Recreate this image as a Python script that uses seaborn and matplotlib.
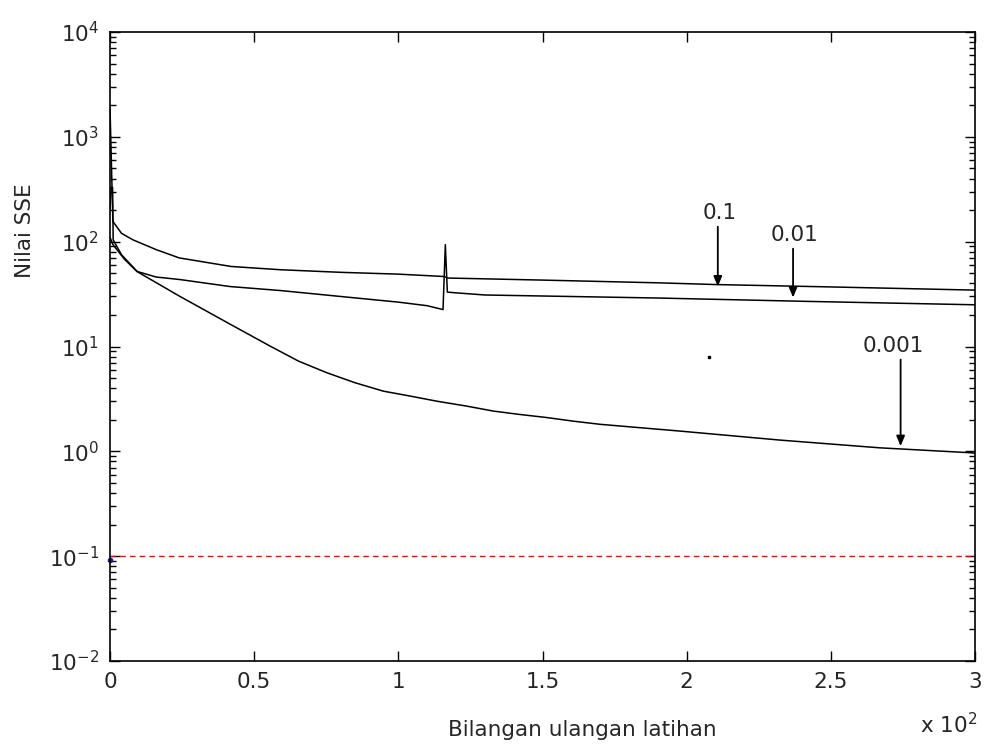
import numpy as np
import pandas as pd
import matplotlib
matplotlib.use("Agg")
import matplotlib.pyplot as plt
import seaborn as sns

# epochs / SSE values (x axis is in epochs, shown as x 10^2)
ep_a = [0, 1, 4, 8, 16, 24, 42, 59, 80, 100, 116, 117, 150, 190, 210, 250, 300]
sse_a = [1900, 156, 120, 104, 84, 70, 58, 54, 51, 49, 46.5, 45, 43, 40.5, 39, 37, 34.5]

ep_b = [0, 0.4, 0.9, 1.1, 4, 9.4, 16, 24.3, 41.7, 59, 80, 100, 110, 115.5, 116.3, 117,
        120, 130, 190, 240, 300]
sse_b = [200, 330, 330, 104, 75, 52, 46, 43.5, 37.3, 34.2, 30, 26.5, 24.5, 22.5, 93.6, 33,
         32.5, 31, 29, 27, 25]

ep_c = [0, 1, 5, 9.4, 24.3, 41.7, 55.5, 65.4, 75.2, 85, 94.8, 104, 113.3, 123.7, 133, 142,
        151.5, 160.7, 170, 197.7, 232.4, 267, 298.3, 300]
sse_c = [110, 94, 68, 51.8, 30, 16.3, 10.1, 7.25, 5.62, 4.51, 3.75, 3.37, 3.01, 2.70, 2.42, 2.25,
         2.1, 1.94, 1.81, 1.56, 1.28, 1.08, 0.97, 0.96]

goal = 0.1
start_pt = (0, 0.092)
stray_pt = (207.6, 8.0)

x_ticks = [0, 50, 100, 150, 200, 250, 300]
x_labels = ["0", "0.5", "1", "1.5", "2", "2.5", "3"]
y_ticks = [1e-2, 1e-1, 1e0, 1e1, 1e2, 1e3, 1e4]

# arrow labels: (text, arrow x, tip, tail, text x)
labels = [("0.1", 210.8, 37.3, 139, 211.5),
          ("0.01", 236.9, 29.3, 85.8, 237.5),
          ("0.001", 274.2, 1.12, 7.5, 271.5)]

df = pd.concat([
    pd.DataFrame({"epoch": ep_a, "sse": sse_a, "lr": "0.1"}),
    pd.DataFrame({"epoch": ep_b, "sse": sse_b, "lr": "0.01"}),
    pd.DataFrame({"epoch": ep_c, "sse": sse_c, "lr": "0.001"}),
])

sns.set_style("ticks")
plt.rcParams["font.family"] = ["DejaVu Sans"]
plt.rcParams["mathtext.fontset"] = "dejavusans"
fs = 15.5

fig = plt.figure(figsize=(9.84, 7.46), dpi=100)
ax = fig.add_axes([110/984, 1-661/746, 865/984, 629/746])

sns.lineplot(data=df, x="epoch", y="sse", hue="lr", units="lr", estimator=None,
             palette={"0.1": "black", "0.01": "black", "0.001": "black"},
             lw=1.1, legend=False, ax=ax)

ax.axhline(goal, color="red", lw=1, ls=(0, (4, 3)))
ax.plot(*start_pt, marker="o", ms=3, color="#1a1a8c", clip_on=False)
ax.plot(*stray_pt, marker="s", ms=1.5, color="black")

for txt, x, tip, tail, tx in labels:
    ax.annotate("", xy=(x, tip), xytext=(x, tail),
                arrowprops=dict(arrowstyle="-|>,head_length=0.6,head_width=0.25",
                                color="black", lw=1.3, shrinkA=0, shrinkB=0))
    ax.text(tx, tail * 1.08, txt, ha="center", va="bottom", fontsize=fs)

ax.set_yscale("log")
ax.set_ylim(1e-2, 1e4)
ax.set_xlim(0, 300)
ax.set_xticks(x_ticks)
ax.set_xticklabels(x_labels)
ax.yaxis.set_major_locator(matplotlib.ticker.FixedLocator(y_ticks))
ax.yaxis.set_minor_locator(matplotlib.ticker.LogLocator(base=10, subs=np.arange(2, 10)))
ax.yaxis.set_minor_formatter(matplotlib.ticker.NullFormatter())
ax.tick_params(which="both", direction="in", top=True, right=True, labelsize=fs,
               color="black", width=1)
ax.tick_params(which="major", length=7, pad=8)
ax.tick_params(which="minor", length=4)
for s in ax.spines.values():
    s.set_linewidth(1.2)
    s.set_color("black")

ax.set_xlabel("")
ax.set_ylabel("")
fig.text(582/984, 1-730/746, "Bilangan ulangan latihan", ha="center", va="center", fontsize=fs)
fig.text(25/984, 1-231/746, "Nilai SSE", ha="center", va="center", rotation=90, fontsize=fs)
fig.text(977/984, 1-733/746, r"x 10$^{2}$", ha="right", va="baseline", fontsize=fs)

fig.savefig("out.png", dpi=100)
